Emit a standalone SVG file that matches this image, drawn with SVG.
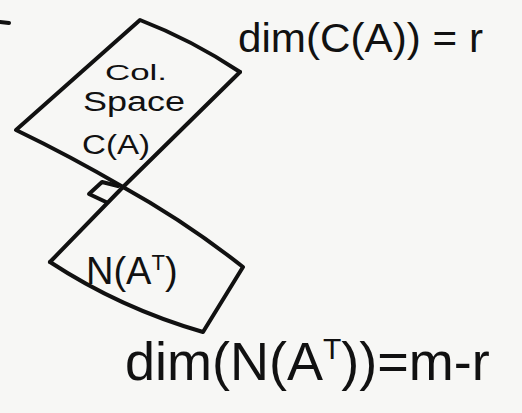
<svg xmlns="http://www.w3.org/2000/svg" width="522" height="413" viewBox="0 0 522 413">
<style>
.ink{fill:none;stroke:#111;stroke-width:4;stroke-linecap:round;stroke-linejoin:round}
.t{font-family:"Liberation Sans",Arial,sans-serif;fill:#111}
</style>
<rect width="522" height="413" fill="#f7f7f5"/>
<g id="stray-mark"><path class="ink" d="M0,22 L9,23" stroke-width="5"/></g>
<g id="col-space">
<path class="ink" d="M16,130 L140,20 Q192,40 240,72 M16,130 Q70,156 123,187"/>
<text class="t" x="105" y="80" font-size="22" textLength="62" lengthAdjust="spacingAndGlyphs">Col.</text>
<text class="t" x="83" y="111" font-size="27" textLength="102" lengthAdjust="spacingAndGlyphs">Space</text>
<text class="t" x="82" y="154" font-size="27" textLength="68" lengthAdjust="spacingAndGlyphs">C(A)</text>
</g>
<g id="left-null-space">
<path class="ink" d="M123,187 Q186,222 243,267 L203,332 Q120,308 50,262"/>
<text class="t" x="86" y="284" font-size="38">N(A<tspan font-size="22" dy="-14">T</tspan><tspan dy="14">)</tspan></text>
</g>
<g id="connectors">
<path class="ink" d="M240,72 L123,187 L50,262"/>
<path class="ink" d="M118,186 L102,182 L89,194 L106,202"/>
</g>
<g id="labels">
<text class="t" x="238" y="52" font-size="40" textLength="245" lengthAdjust="spacingAndGlyphs">dim(C(A)) = r</text>
<text class="t" x="125" y="380" font-size="54">dim(N(A<tspan font-size="30" dy="-21">T</tspan><tspan dy="21">))=m-r</tspan></text>
</g>
</svg>
